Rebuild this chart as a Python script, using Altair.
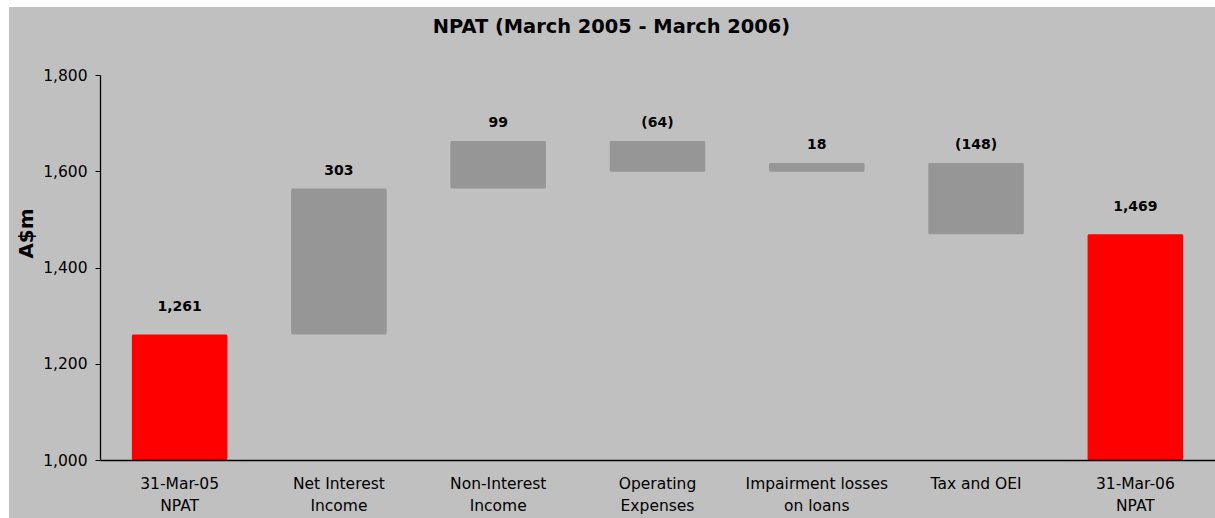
import altair as alt
import pandas as pd

categories = ["31-Mar-05|NPAT", "Net Interest|Income", "Non-Interest|Income",
              "Operating|Expenses", "Impairment losses|on loans", "Tax and OEI",
              "31-Mar-06|NPAT"]
bar_start = [1000, 1261, 1564, 1663, 1599, 1617, 1000]
bar_end = [1261, 1564, 1663, 1599, 1617, 1469, 1469]
labels = ["1,261", "303", "99", "(64)", "18", "(148)", "1,469"]
kinds = ["total", "step", "step", "step", "step", "step", "total"]

df = pd.DataFrame({
    "cat": categories,
    "start": bar_start,
    "end": bar_end,
    "label": labels,
    "kind": kinds,
})
df["top"] = df[["start", "end"]].max(axis=1)

FONT = "DejaVu Sans"
PANEL = "#c0c0c0"

x_axis = alt.Axis(labelExpr="split(datum.label, '|')", labelAngle=0,
                  ticks=False, labelPadding=16, labelBaseline="top",
                  labelLineHeight=22, labelFontSize=15.5, labelFont=FONT,
                  labelColor="black", domainColor="black", domainWidth=1.3,
                  labelLimit=300, zindex=1)
x_scale = alt.Scale(paddingInner=0.4, paddingOuter=0.2)

y_scale = alt.Scale(domain=[1000, 1800], zero=False, nice=False)
y_axis = alt.Axis(values=[1000, 1200, 1400, 1600, 1800], format=",d",
                  grid=False, tickSize=5, labelPadding=8,
                  labelFontSize=15.5, labelFont=FONT, labelColor="black",
                  domainColor="black", tickColor="black", domainWidth=1.3,
                  titleFont=FONT, titleFontSize=20,
                  titleFontWeight="bold", titleColor="black",
                  titleAngle=-90, titleX=-74, titleY=158,
                  titleAlign="center", titleBaseline="middle", zindex=1)


def X():
    return alt.X("cat:N", sort=categories, title=None, scale=x_scale, axis=x_axis)


panel = alt.Chart(df).mark_rect(color=PANEL, clip=False).encode(
    x=alt.value(-91), x2=alt.value(1120), y=alt.value(-68), y2=alt.value(450)
)

bars = alt.Chart(df).mark_bar(cornerRadius=1.5).encode(
    x=X(),
    y=alt.Y("start:Q", scale=y_scale, axis=y_axis, title="A$m"),
    y2="end:Q",
    color=alt.Color("kind:N", scale=alt.Scale(domain=["total", "step"],
                                                range=["#ff0000", "#969696"]),
                    legend=None),
)

step_text = alt.Chart(df).transform_filter("datum.kind == 'step'").mark_text(
    baseline="bottom", dy=-11, fontSize=14, fontWeight="bold", font=FONT,
    color="black").encode(
    x=X(),
    y=alt.Y("top:Q", scale=y_scale, axis=y_axis, title="A$m"),
    text="label:N",
)

total_text = alt.Chart(df).transform_filter("datum.kind == 'total'").mark_text(
    baseline="bottom", dy=-20, fontSize=14, fontWeight="bold", font=FONT,
    color="black").encode(
    x=X(),
    y=alt.Y("top:Q", scale=y_scale, axis=y_axis, title="A$m"),
    text="label:N",
)

chart = (panel + bars + step_text + total_text).properties(
    width=1115, height=385,
    background="white",
    padding={"left": 100, "top": 75, "right": 0, "bottom": 58},
    autosize=alt.AutoSizeParams(type="none"),
    title=alt.TitleParams("NPAT (March 2005 - March 2006)", font=FONT, fontSize=19.4,
                          fontWeight="bold", color="black", anchor="middle",
                          frame="group", dx=-46, dy=60, offset=30, zindex=1),
).configure_view(stroke=None)

chart.save("out.html", embed_options={"renderer": "svg", "actions": False})
